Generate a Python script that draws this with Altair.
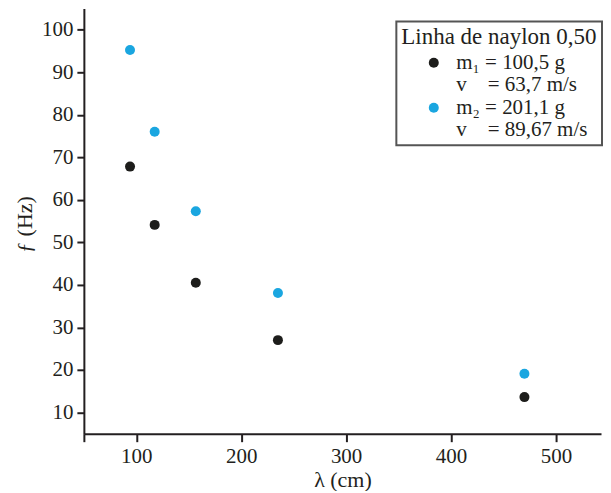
import altair as alt
import pandas as pd

# ---- data ----
lam = [94, 117.5, 156.7, 235, 470]                 # λ (cm)
f_m1 = [67.8, 54.1, 40.5, 27.0, 13.6]              # f (Hz), m1 = 100,5 g
f_m2 = [95.2, 76.0, 57.3, 38.1, 19.1]              # f (Hz), m2 = 201,1 g
legend_title = "Linha de naylon 0,50"
NB = "\u00a0"
entries = ["m₁ = 100,5 g", "v" + NB * 4 + "= 63,7 m/s", "m₂ = 201,1 g", "v" + NB * 4 + "= 89,67 m/s"]
entry_colors = ["#1d1d1b", "#ffffff", "#1aa6e0", "#ffffff"]
x_ticks = [50, 100, 200, 300, 400, 500]
y_ticks = [10, 20, 30, 40, 50, 60, 70, 80, 90, 100]

df = pd.DataFrame({
    "lam": lam + lam,
    "f": f_m1 + f_m2,
    "serie": [entries[0]] * len(lam) + [entries[2]] * len(lam),
})

FONT = "Liberation Serif"
INK = "#231f20"

chart = alt.Chart(df).mark_circle(size=100, opacity=1).encode(
    x=alt.X(
        "lam:Q",
        scale=alt.Scale(domain=[50, 543], nice=False, zero=False),
        axis=alt.Axis(
            values=x_ticks,
            labelExpr="datum.value == 50 ? '' : datum.label",
            title="λ (cm)",
            grid=False,
            tickSize=8,
            labelPadding=4,
            titlePadding=3,
        ),
    ),
    y=alt.Y(
        "f:Q",
        scale=alt.Scale(domain=[5, 105], nice=False, zero=False),
        axis=alt.Axis(
            values=y_ticks,
            title="ƒ (Hz)",
            grid=False,
            tickSize=7,
            labelPadding=4,
            titleX=-59,
            titleY=216,
            titleBaseline="middle",
        ),
    ),
    color=alt.Color(
        "serie:N",
        scale=alt.Scale(domain=entries, range=entry_colors),
        legend=alt.Legend(
            title=legend_title,
            orient="none",
            legendX=313,
            legendY=13,
            symbolOffset=22,
            labelOffset=12,
            titlePadding=3,
            rowPadding=0.5,
        ),
    ),
).properties(
    width=518,
    height=426,
    padding={"left": 6, "top": 0, "right": 0, "bottom": 0},
).configure_view(
    stroke=None
).configure_axis(
    domainColor=INK,
    domainWidth=2,
    tickColor=INK,
    tickWidth=2,
    labelFont=FONT,
    labelFontSize=21,
    labelColor=INK,
    titleFont=FONT,
    titleFontSize=22,
    titleFontWeight="normal",
    titleColor=INK,
).configure_legend(
    fillColor="#ffffff",
    strokeColor="#555555",
    strokeWidth=2,
    padding=5,
    titleFont=FONT,
    titleFontSize=23,
    titleFontWeight="normal",
    titleColor=INK,
    titleLimit=400,
    labelFont=FONT,
    labelFontSize=21,
    labelColor=INK,
    labelLimit=300,
    symbolType="circle",
    symbolSize=100,
    symbolStrokeWidth=0,
    symbolOpacity=1,
)

chart.save("out.html", embed_options={"renderer": "svg", "actions": False})
